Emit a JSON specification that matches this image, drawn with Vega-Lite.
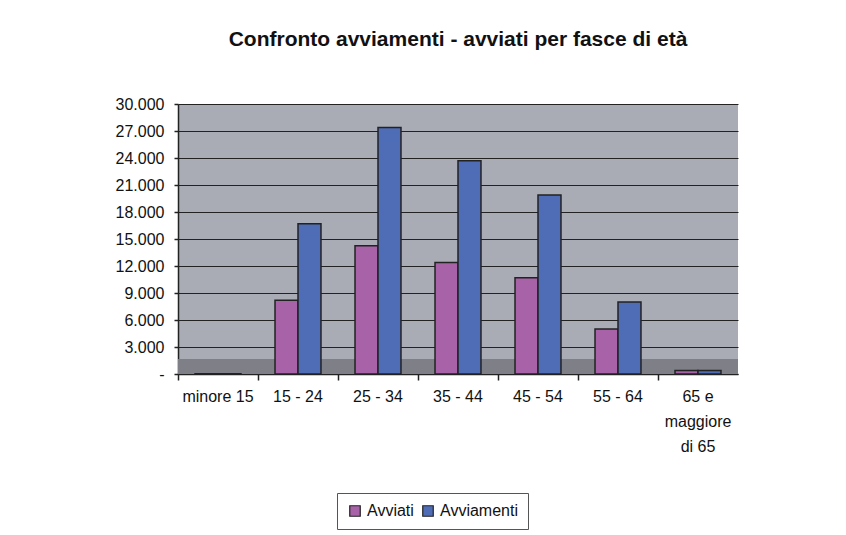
{
  "$schema": "https://vega.github.io/schema/vega-lite/v6.json",
  "width": 560,
  "height": 270,
  "autosize": {"type": "none"},
  "padding": {"left": 178, "top": 104, "right": 108, "bottom": 161},
  "background": "#ffffff",
  "title": {
    "text": "Confronto avviamenti - avviati per fasce di età",
    "font": "Liberation Sans",
    "fontSize": 21,
    "fontWeight": "bold",
    "color": "#111111",
    "anchor": "middle",
    "offset": 46
  },
  "data": {
    "values": [
      {"fascia": "minore 15", "serie": "Avviati", "valore": 30},
      {"fascia": "minore 15", "serie": "Avviamenti", "valore": 30},
      {"fascia": "15 - 24", "serie": "Avviati", "valore": 8200},
      {"fascia": "15 - 24", "serie": "Avviamenti", "valore": 16700},
      {"fascia": "25 - 34", "serie": "Avviati", "valore": 14250},
      {"fascia": "25 - 34", "serie": "Avviamenti", "valore": 27400},
      {"fascia": "35 - 44", "serie": "Avviati", "valore": 12400},
      {"fascia": "35 - 44", "serie": "Avviamenti", "valore": 23700},
      {"fascia": "45 - 54", "serie": "Avviati", "valore": 10700},
      {"fascia": "45 - 54", "serie": "Avviamenti", "valore": 19900},
      {"fascia": "55 - 64", "serie": "Avviati", "valore": 5000},
      {"fascia": "55 - 64", "serie": "Avviamenti", "valore": 8000},
      {"fascia": "65 e maggiore di 65", "serie": "Avviati", "valore": 400},
      {"fascia": "65 e maggiore di 65", "serie": "Avviamenti", "valore": 400}
    ]
  },
  "config": {
    "view": {"fill": "#A9ACB5", "stroke": null},
    "font": "Liberation Sans",
    "axisY": {
      "labelOverlap": false,
      "labelFontSize": 16,
      "labelColor": "#111111",
      "labelPadding": 10,
      "tickSize": 4,
      "tickColor": "#222222",
      "tickWidth": 1.5,
      "domainColor": "#222222",
      "domainWidth": 1.5,
      "grid": true,
      "gridColor": "#222222",
      "gridWidth": 1
    }
  },
  "layer": [
    {
      "mark": {"type": "rect", "color": "#7F8087"},
      "encoding": {
        "y": {
          "datum": 0,
          "type": "quantitative",
          "scale": {"domain": [0, 30000]},
          "axis": {
            "title": null,
            "values": [0, 3000, 6000, 9000, 12000, 15000, 18000, 21000, 24000, 27000, 30000],
            "labelExpr": "datum.value == 0 ? '-' : replace(format(datum.value, ','), ',', '.')"
          }
        },
        "y2": {"datum": 1600}
      }
    },
    {
      "mark": {"type": "bar", "stroke": "#222222", "strokeWidth": 1.5},
      "encoding": {
        "x": {
          "field": "fascia",
          "type": "nominal",
          "sort": null,
          "scale": {"paddingInner": 0, "paddingOuter": 0},
          "axis": {
            "title": null,
            "labelAngle": 0,
            "labelFontSize": 16,
            "labelColor": "#111111",
            "labelPadding": 8,
            "labelLineHeight": 25,
            "labelBaseline": "top",
            "bandPosition": 0,
            "tickSize": 6,
            "tickColor": "#222222",
            "tickWidth": 1.5,
            "domainColor": "#222222",
            "domainWidth": 1.5,
            "labelExpr": "datum.label == '65 e maggiore di 65' ? ['65 e', 'maggiore', 'di 65'] : datum.label"
          }
        },
        "xOffset": {
          "field": "serie",
          "type": "nominal",
          "sort": ["Avviati", "Avviamenti"],
          "scale": {"paddingInner": 0, "paddingOuter": 0.74}
        },
        "y": {
          "field": "valore",
          "type": "quantitative",
          "scale": {"domain": [0, 30000]},
          "axis": {
            "title": null,
            "values": [0, 3000, 6000, 9000, 12000, 15000, 18000, 21000, 24000, 27000, 30000],
            "labelExpr": "datum.value == 0 ? '-' : replace(format(datum.value, ','), ',', '.')"
          }
        },
        "color": {
          "field": "serie",
          "type": "nominal",
          "sort": ["Avviati", "Avviamenti"],
          "scale": {"domain": ["Avviati", "Avviamenti"], "range": ["#A862A8", "#4F6DB6"]},
          "legend": {
            "title": null,
            "orient": "none",
            "legendX": 159,
            "legendY": 389,
            "direction": "horizontal",
            "symbolType": "square",
            "symbolSize": 110,
            "symbolStrokeColor": "#222222",
            "symbolStrokeWidth": 1.2,
            "symbolOpacity": 1,
            "labelFontSize": 16,
            "labelColor": "#111111",
            "labelOffset": 4,
            "columnPadding": 6,
            "strokeColor": "#555555",
            "padding": 10,
            "fillColor": "#ffffff"
          }
        }
      }
    }
  ]
}
